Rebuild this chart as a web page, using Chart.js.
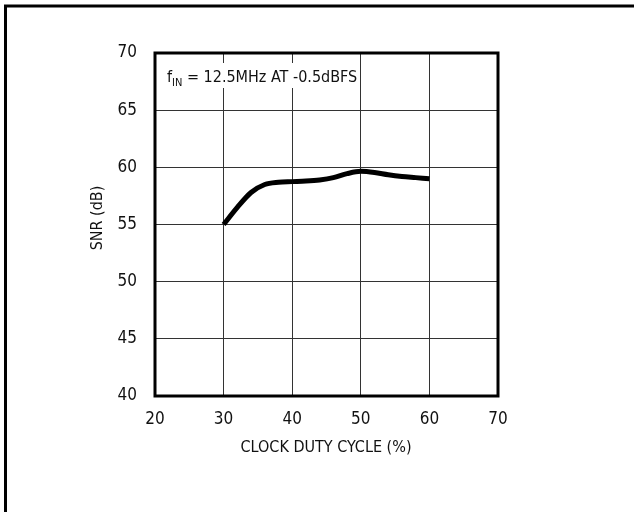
<!DOCTYPE html>
<html>
<head>
<meta charset="utf-8">
<script src="https://cdn.jsdelivr.net/npm/chart.js@4.4.1/dist/chart.umd.min.js"></script>
<style>
  body { margin: 0; background: #fff; }
</style>
</head>
<body>
<canvas id="chart" width="634" height="512"></canvas>
<script>
const dutyCycle = [30, 32, 34, 36, 38, 40, 42, 44, 46, 48, 50, 52, 54, 56, 58, 60];
const snr = [55.0, 56.5, 57.8, 58.5, 58.7, 58.75, 58.8, 58.9, 59.1, 59.45, 59.65, 59.55, 59.35, 59.2, 59.1, 59.0];

const xTitle = 'CLOCK DUTY CYCLE (%)';
const yTitle = 'SNR (dB)';
const noteMain = 'f';
const noteSub = 'IN';
const noteRest = ' = 12.5MHz AT -0.5dBFS';

const fontFamily = "'Liberation Sans Narrow', 'DejaVu Sans Condensed', 'Liberation Sans', sans-serif";

// frame, axis titles and the condition note
const extras = {
  id: 'extras',
  beforeDatasetsDraw(chart) {
    const ctx = chart.ctx;
    ctx.save();
    // white box behind the note, gridlines are cut there
    ctx.fillStyle = '#fff';
    ctx.fillRect(162, 63, 194, 25);
    ctx.restore();
  },
  afterDraw(chart) {
    const ctx = chart.ctx;
    const a = chart.chartArea;
    ctx.save();
    ctx.strokeStyle = '#000';
    ctx.lineWidth = 3;
    ctx.strokeRect(a.left, a.top, a.right - a.left, a.bottom - a.top);

    // outer frame, only top and left visible
    ctx.beginPath();
    ctx.moveTo(5.5, 512);
    ctx.lineTo(5.5, 6);
    ctx.lineTo(634, 6);
    ctx.stroke();

    ctx.fillStyle = '#111';
    ctx.font = '16px ' + fontFamily;
    ctx.textAlign = 'center';
    ctx.textBaseline = 'middle';
    ctx.fillText(xTitle, 326, 448);

    ctx.save();
    ctx.translate(97.5, 218);
    ctx.rotate(-Math.PI / 2);
    ctx.fillText(yTitle, 0, 0);
    ctx.restore();

    ctx.textAlign = 'left';
    ctx.textBaseline = 'alphabetic';
    let x = 167;
    ctx.font = '16px ' + fontFamily;
    ctx.fillText(noteMain, x, 82);
    x += ctx.measureText(noteMain).width;
    ctx.font = '11px ' + fontFamily;
    ctx.fillText(noteSub, x, 86);
    x += ctx.measureText(noteSub).width;
    ctx.font = '16px ' + fontFamily;
    ctx.fillText(noteRest, x, 82);
    ctx.restore();
  }
};

new Chart(document.getElementById('chart'), {
  type: 'line',
  data: {
    datasets: [{
      data: dutyCycle.map((d, i) => ({ x: d, y: snr[i] })),
      borderColor: '#000',
      borderWidth: 5,
      pointRadius: 0,
      cubicInterpolationMode: 'monotone',
      fill: false
    }]
  },
  options: {
    responsive: false,
    animation: false,
    layout: { padding: { left: 0, top: 53, right: 136, bottom: 0 } },
    plugins: { legend: { display: false }, tooltip: { enabled: false } },
    scales: {
      x: {
        type: 'linear',
        min: 20,
        max: 70,
        afterFit(scale) { scale.height = 116; },
        grid: { color: '#333', lineWidth: 1, drawTicks: false },
        border: { display: false },
        ticks: {
          stepSize: 10,
          padding: 13,
          color: '#111',
          font: { family: fontFamily, size: 17 }
        }
      },
      y: {
        min: 40,
        max: 70,
        afterFit(scale) { scale.width = 155; },
        grid: { color: '#333', lineWidth: 1, drawTicks: false },
        border: { display: false },
        ticks: {
          stepSize: 5,
          padding: 18,
          color: '#111',
          font: { family: fontFamily, size: 17 }
        }
      }
    }
  },
  plugins: [extras]
});
</script>
</body>
</html>
